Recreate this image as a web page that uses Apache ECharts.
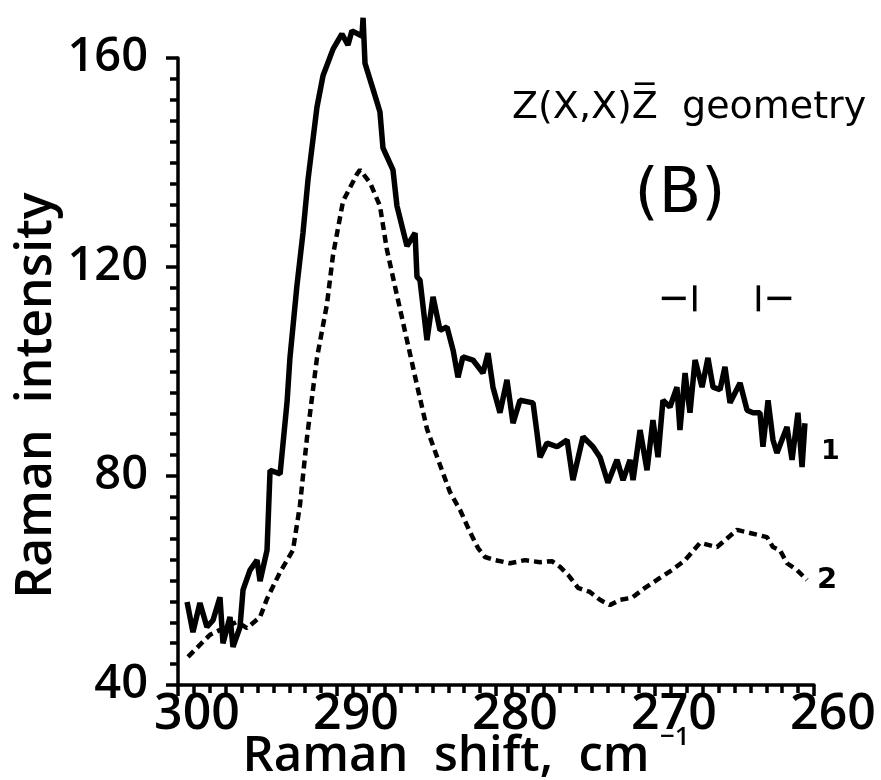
<!DOCTYPE html>
<html>
<head>
<meta charset="utf-8">
<script src="https://cdn.jsdelivr.net/npm/echarts@6/dist/echarts.min.js"></script>
<style>
    html, body {margin: 0; padding: 0; background: #fff;}
    #chart {width: 881px; height: 780px;}
</style>
</head>
<body>
<div id="chart"></div>
<script>
//曲线 1（实线）
var shift1 = [299.43, 299.06, 298.62, 298.18, 297.80, 297.36, 297.17, 296.73, 296.54, 296.10,
    295.91, 295.47, 295.03, 294.84, 294.40, 294.21, 293.58, 293.14, 292.96, 292.52,
    292.14, 291.82, 291.26, 290.88, 290.25, 289.69, 289.31, 289.06, 288.43, 288.36,
    288.24, 287.74, 287.30, 287.11, 286.48, 286.23, 285.60, 285.09, 284.97, 284.78,
    284.34, 283.96, 283.52, 283.08, 282.70, 282.39, 282.08, 281.45, 280.82, 280.50,
    280.19, 279.75, 279.31, 278.93, 278.49, 277.67, 277.42, 277.23, 276.79, 276.16,
    275.53, 275.16, 274.53, 273.90, 273.46, 272.96, 272.39, 272.01, 271.57, 271.38,
    270.94, 270.50, 270.13, 269.81, 269.50, 269.06, 268.62, 268.43, 268.11, 267.80,
    267.48, 267.04, 266.67, 266.35, 265.91, 265.60, 265.28, 264.65, 264.21, 263.84,
    263.40, 263.21, 262.89, 262.58, 262.33, 261.70, 261.38, 261.01, 260.75, 260.57];
var int1 = [55.9, 50.1, 55.7, 51.1, 52.4, 56.8, 48.0, 53.0, 47.3, 51.1,
    58.2, 62.0, 63.9, 59.9, 65.8, 81.1, 80.4, 94.2, 102.6, 116.4,
    126.5, 136.8, 150.6, 156.6, 161.7, 164.6, 162.5, 165.2, 164.2, 167.7,
    159.0, 154.1, 149.7, 142.8, 138.6, 131.7, 124.0, 126.5, 118.1, 117.5,
    106.0, 114.3, 107.9, 108.5, 104.1, 98.9, 102.8, 102.2, 99.7, 103.5,
    97.0, 92.1, 98.4, 90.1, 94.5, 94.0, 88.2, 83.6, 86.3, 85.6,
    86.9, 79.2, 87.5, 85.6, 83.6, 78.7, 83.1, 79.2, 83.1, 79.2,
    88.8, 81.1, 90.7, 83.6, 94.5, 93.2, 97.0, 88.8, 99.7, 92.1,
    102.2, 97.0, 102.6, 97.0, 96.5, 100.9, 94.0, 97.8, 92.6, 92.1,
    92.1, 85.6, 94.5, 86.9, 84.4, 89.4, 83.1, 92.1, 81.7, 90.1];

//曲线 2（虚线）
var shift2 = [299.37, 297.99, 296.29, 295.66, 294.84, 294.40, 293.58, 292.77, 292.33, 291.89,
    291.26, 290.63, 290.25, 289.62, 288.74, 288.55, 287.92, 287.30, 286.86, 286.23,
    285.60, 284.97, 284.34, 283.52, 282.89, 282.26, 281.64, 281.13, 280.69, 280.06,
    279.12, 278.18, 277.23, 276.48, 275.97, 275.47, 274.84, 274.09, 273.46, 272.83,
    272.20, 271.45, 270.63, 269.69, 268.93, 268.11, 267.17, 266.10, 264.84, 264.03,
    262.96, 262.58, 262.14, 261.70, 261.07, 260.44];
var int2 = [45.4, 49.6, 52.1, 50.9, 53.0, 56.5, 61.6, 65.8, 74.4, 87.3,
    102.6, 112.9, 122.3, 132.6, 137.8, 138.6, 136.1, 131.7, 123.3, 114.6,
    106.0, 97.4, 89.0, 82.1, 76.9, 73.5, 69.3, 66.2, 64.5, 63.9,
    63.3, 63.9, 63.5, 63.7, 62.6, 61.1, 58.6, 57.8, 56.3, 55.3,
    56.3, 56.7, 58.6, 60.5, 62.0, 63.9, 67.2, 66.4, 69.7, 69.1,
    68.3, 66.4, 65.8, 63.3, 62.0, 60.1];

//坐标轴刻度
var xTicks = [300, 290, 280, 270, 260];
var yTicks = [40, 80, 120, 160];

//谱带标记位置及高度
var bandMarks = [267.5, 263.5];
var markLevel = 114;

var font = 'Open Sans';
var noteFont = 'DejaVu Sans';

function toPairs(xs, ys) {
    return xs.map(function (x, i) {
        return [x, ys[i]];
    });
}

var chart = echarts.init(document.getElementById('chart'), null, {renderer: 'canvas'});

var option = {
    animation: false,
    backgroundColor: '#fff',
    grid: {
        left: 178,
        right: 67,
        top: 58,
        bottom: 95,
        outerBoundsMode: 'none'
    },
    xAxis: {
        type: 'value',
        inverse: true,
        min: xTicks[xTicks.length - 1],
        max: xTicks[0],
        interval: 10,
        name: 'Raman  shift,  cm',
        nameLocation: 'middle',
        nameGap: 48,
        nameMoveOverlap: false,
        nameTextStyle: {
            color: '#000',
            fontFamily: font,
            fontWeight: 600,
            fontSize: 49,
            padding: [0, 100, 0, 0]
        },
        axisLine: {lineStyle: {color: '#000', width: 3.5}},
        axisTick: {show: true, length: 11, lineStyle: {color: '#000', width: 3.5}},
        minorTick: {show: true, splitNumber: 10, length: 8, lineStyle: {color: '#000', width: 3.5}},
        splitLine: {show: false},
        axisLabel: {
            color: '#000',
            fontFamily: font,
            fontWeight: 600,
            fontSize: 50,
            margin: 5,
            padding: [0, 0, 0, 38]
        }
    },
    yAxis: {
        type: 'value',
        min: yTicks[0],
        max: yTicks[yTicks.length - 1],
        interval: 40,
        name: 'Raman  intensity',
        nameLocation: 'middle',
        nameGap: 116,
        nameMoveOverlap: false,
        nameTextStyle: {
            color: '#000',
            fontFamily: font,
            fontWeight: 600,
            fontSize: 50,
            padding: [0, 48, 0, 0]
        },
        axisLine: {lineStyle: {color: '#000', width: 3.5}},
        axisTick: {show: true, length: 12, lineStyle: {color: '#000', width: 3.5}},
        minorTick: {show: true, splitNumber: 10, length: 8, lineStyle: {color: '#000', width: 3.5}},
        splitLine: {show: false},
        axisLabel: {
            color: '#000',
            fontFamily: font,
            fontWeight: 600,
            fontSize: 47,
            margin: 30
        }
    },
    series: [
        {
            name: '1',
            type: 'line',
            data: toPairs(shift1, int1),
            symbol: 'none',
            clip: false,
            lineStyle: {color: '#000', width: 5.5},
            endLabel: {
                show: true,
                formatter: '1',
                color: '#000',
                fontFamily: noteFont,
                fontWeight: 'bold',
                fontSize: 27,
                distance: 0,
                align: 'left',
                offset: [16, 29]
            }
        },
        {
            name: '2',
            type: 'line',
            data: toPairs(shift2, int2),
            symbol: 'none',
            clip: false,
            lineStyle: {color: '#000', width: 4.5, type: [8, 5]},
            endLabel: {
                show: true,
                formatter: '2',
                color: '#000',
                fontFamily: noteFont,
                fontWeight: 'bold',
                fontSize: 29,
                distance: 0,
                align: 'left',
                offset: [10, 0]
            }
        }
    ]
};

chart.setOption(option);

//文字标注与谱带标记
var markY = chart.convertToPixel({gridIndex: 0}, [bandMarks[0], markLevel])[1];
var graphics = [
    {
        type: 'text',
        x: 512,
        y: 108,
        style: {
            text: 'Z(X,X)Z\u0305  geometry',
            fill: '#000',
            fontFamily: noteFont,
            fontSize: 38,
            align: 'left',
            verticalAlign: 'middle'
        }
    },
    {
        type: 'text',
        x: 680,
        y: 196,
        style: {
            text: '(B)',
            fill: '#000',
            fontFamily: noteFont,
            fontSize: 62,
            align: 'center',
            verticalAlign: 'middle'
        }
    },
    {
        type: 'text',
        x: 660,
        y: 738,
        style: {
            text: '\u22121',
            fill: '#000',
            fontFamily: font,
            fontWeight: 600,
            fontSize: 26,
            align: 'left',
            verticalAlign: 'middle'
        }
    }
];

bandMarks.forEach(function (v, i) {
    var px = chart.convertToPixel({gridIndex: 0}, [v, markLevel])[0];
    var dir = i === 0 ? -1 : 1;
    graphics.push({
        type: 'line',
        shape: {x1: px, y1: markY - 13, x2: px, y2: markY + 13},
        style: {stroke: '#000', lineWidth: 3.5}
    });
    graphics.push({
        type: 'line',
        shape: {x1: px + dir * 9, y1: markY, x2: px + dir * 33, y2: markY},
        style: {stroke: '#000', lineWidth: 3.5}
    });
});

chart.setOption({graphic: graphics});
</script>
</body>
</html>
